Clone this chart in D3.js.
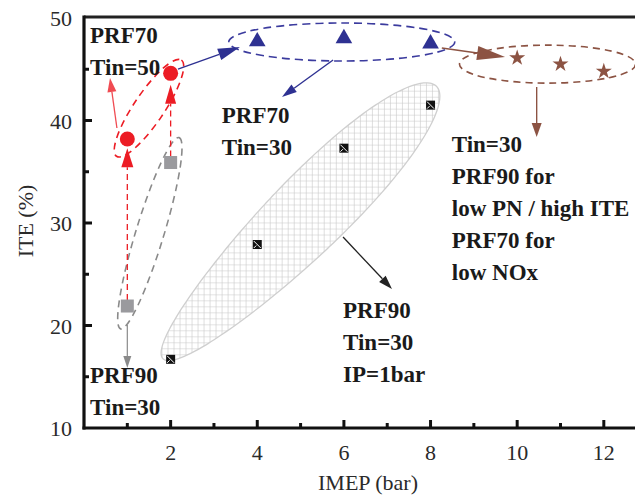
<!DOCTYPE html>
<html>
<head>
<meta charset="utf-8">
<script src="https://cdn.jsdelivr.net/npm/d3@7/dist/d3.min.js"></script>
<style>
  body { margin: 0; background: #fff; }
  svg { display: block; }
  text { font-family: "Liberation Serif", "Times New Roman", serif; }
</style>
</head>
<body>
<svg id="chart" width="635" height="500"></svg>
<script>
// ---------- data ----------
const xTicks = [2, 4, 6, 8, 10, 12];
const yTicks = [10, 20, 30, 40, 50];
const xMinor = [1, 3, 5, 7, 9, 11];
const yMinor = [15, 25, 35, 45];

// PRF70 Tin=50 (red circles)
const redIMEP = [1, 2];
const redITE = [38.2, 44.6];
// PRF90 Tin=30 (grey squares)
const greyIMEP = [1, 2];
const greyITE = [21.9, 35.9];
// PRF70 Tin=30 (blue triangles)
const blueIMEP = [4, 6, 8];
const blueITE = [47.8, 48.1, 47.6];
// Tin=30 stars
const starIMEP = [10, 11, 12];
const starITE = [46.1, 45.5, 44.8];
// PRF90 Tin=30 IP=1bar (black markers)
const blackIMEP = [2, 4, 6, 8];
const blackITE = [16.7, 27.9, 37.3, 41.5];

// annotation text blocks: [x, y(baseline of first line), lines]
const labels = [
  { x: 0.14, y: 47.56, lines: ["PRF70", "Tin=50"] },
  { x: 3.18, y: 39.76, lines: ["PRF70", "Tin=30"] },
  { x: 8.49, y: 36.93, lines: ["Tin=30", "PRF90 for", "low PN / high ITE", "PRF70 for", "low NOx"] },
  { x: 5.98, y: 20.73, lines: ["PRF90", "Tin=30", "IP=1bar"] },
  { x: 0.14, y: 14.39, lines: ["PRF90", "Tin=30"] }
];

// ---------- layout ----------
const svg = d3.select("#chart");
const x = d3.scaleLinear().domain([0, 12.72]).range([84, 635]);
const y = d3.scaleLinear().domain([10, 50]).range([428, 18]);

const RED = "#ec1c24", BLUE = "#2e3192", BROWN = "#8c5343", GREY = "#9a9a9e", INK = "#1a1a1a";

// hatch pattern
const defs = svg.append("defs");
const pat = defs.append("pattern").attr("id", "grid").attr("patternUnits", "userSpaceOnUse")
  .attr("width", 6).attr("height", 6).attr("patternTransform", "rotate(45)");
pat.append("rect").attr("width", 6).attr("height", 6).attr("fill", "#fff");
pat.append("path").attr("d", "M0,0 H6 M0,0 V6").attr("stroke", "#c8c8c8").attr("stroke-width", 1.2);

// ellipses
function ellipse(cx, cy, rx, ry, ang, stroke, dash) {
  svg.append("ellipse")
    .attr("transform", `translate(${x(cx)},${y(cy)}) rotate(${ang})`)
    .attr("rx", rx).attr("ry", ry)
    .attr("fill", "none").attr("stroke", stroke)
    .attr("stroke-width", 1.6)
    .attr("stroke-dasharray", dash || null);
}
// teardrop-shaped hatched region (wider towards upper right)
(function () {
  const a = 193, b0 = 38, k = 0.15, pts = [];
  for (let i = 0; i < 120; i++) {
    const t = (i / 120) * 2 * Math.PI;
    const s = a * Math.cos(t);
    const w = b0 * Math.sin(t) * (1 + k * s / a);
    pts.push([s, w]);
  }
  svg.append("path")
    .attr("transform", `translate(${x(4.98)},${y(30.05)}) rotate(-44.9)`)
    .attr("d", d3.line().curve(d3.curveCardinalClosed)(pts))
    .attr("fill", "url(#grid)").attr("stroke", "#cfcfcf").attr("stroke-width", 1.3);
})();
ellipse(1.5, 41.2, 58, 15, -56, RED, "7,5");
ellipse(1.52, 29.0, 100, 14, -73, "#8a8a8a", "7,5");
ellipse(5.95, 47.66, 113, 19, 0, "#3b3b9e", "8,5");
ellipse(10.7, 45.5, 88, 19, 0, BROWN, "7,5");

// arrows
function arrow(x1, y1, x2, y2, color, w, hl, hw, dash) {
  const X1 = x(x1), Y1 = y(y1), X2 = x(x2), Y2 = y(y2);
  const a = Math.atan2(Y2 - Y1, X2 - X1);
  const bx = X2 - hl * Math.cos(a), by = Y2 - hl * Math.sin(a);
  svg.append("line").attr("x1", X1).attr("y1", Y1).attr("x2", bx).attr("y2", by)
    .attr("stroke", color).attr("stroke-width", w).attr("stroke-dasharray", dash || null);
  const px = -Math.sin(a) * hw / 2, py = Math.cos(a) * hw / 2;
  svg.append("path").attr("d", `M${X2},${Y2}L${bx + px},${by + py}L${bx - px},${by - py}Z`).attr("fill", color);
}
// red dashed arrows from grey squares up to red circles
arrow(greyIMEP[0], greyITE[0] + 0.6, redIMEP[0], redITE[0] - 0.9, RED, 1.3, 19, 12, "6,4");
arrow(greyIMEP[1], greyITE[1] + 0.6, redIMEP[1], redITE[1] - 1.1, RED, 1.3, 19, 11, "6,4");
arrow(0.76, 39.27, 0.6, 44.15, "#f04b52", 1.3, 14, 9);
arrow(2.17, 45.02, 3.6, 47.17, BLUE, 1.4, 22, 12);
arrow(5.75, 45.9, 4.57, 42.29, BLUE, 1.4, 15, 9);
arrow(8.26, 47.07, 9.72, 46.2, BROWN, 1.6, 28, 14);
arrow(10.45, 43.27, 10.45, 38.39, BROWN, 1.4, 14, 10);
arrow(5.98, 28.63, 7.11, 23.56, "#222", 1.3, 14, 9);
arrow(1, 20.05, 1, 15.85, "#8a8a8a", 1.2, 12, 8);

// markers
svg.selectAll(".redc").data(redIMEP).join("circle")
  .attr("cx", d => x(d)).attr("cy", (d, i) => y(redITE[i])).attr("r", 7.5).attr("fill", RED);
svg.selectAll(".greys").data(greyIMEP).join("rect")
  .attr("x", d => x(d) - 6.5).attr("y", (d, i) => y(greyITE[i]) - 6.5)
  .attr("width", 13).attr("height", 13).attr("fill", GREY);
svg.selectAll(".blue").data(blueIMEP).join("path")
  .attr("transform", (d, i) => `translate(${x(d)},${y(blueITE[i]) + 1})`)
  .attr("d", d3.symbol(d3.symbolTriangle, 120)).attr("fill", BLUE);
svg.selectAll(".star").data(starIMEP).join("path")
  .attr("transform", (d, i) => `translate(${x(d)},${y(starITE[i])})`)
  .attr("d", d3.symbol(d3.symbolStar, 80)).attr("fill", BROWN);
const bm = svg.selectAll(".blk").data(blackIMEP).join("g")
  .attr("transform", (d, i) => `translate(${x(d)},${y(blackITE[i])})`);
bm.append("rect").attr("x", -4.5).attr("y", -4.5).attr("width", 9).attr("height", 9).attr("fill", "#111");
bm.append("path").attr("d", "M-3.5,-3.5L3.5,3.5M-3.5,3.5L-1,1").attr("stroke", "#fff").attr("stroke-width", 1);

// axes frame
svg.append("line").attr("x1", 84).attr("x2", 635).attr("y1", y(50) - 1).attr("y2", y(50) - 1)
  .attr("stroke", "#222").attr("stroke-width", 3);
svg.append("line").attr("x1", 84).attr("x2", 84).attr("y1", y(50) - 2.5).attr("y2", y(10) + 1.5)
  .attr("stroke", "#111").attr("stroke-width", 3.2);
svg.append("line").attr("x1", 82.5).attr("x2", 635).attr("y1", y(10)).attr("y2", y(10))
  .attr("stroke", "#111").attr("stroke-width", 3.2);

// ticks
svg.selectAll(".xt").data(xTicks).join("line")
  .attr("x1", d => x(d)).attr("x2", d => x(d)).attr("y1", y(10)).attr("y2", y(10) - 8)
  .attr("stroke", "#111").attr("stroke-width", 3);
svg.selectAll(".xm").data(xMinor).join("line")
  .attr("x1", d => x(d)).attr("x2", d => x(d)).attr("y1", y(10)).attr("y2", y(10) - 5)
  .attr("stroke", "#111").attr("stroke-width", 3);
svg.selectAll(".yt").data(yTicks.filter(d => d > 10 && d < 50)).join("line")
  .attr("x1", 84).attr("x2", 92).attr("y1", d => y(d)).attr("y2", d => y(d))
  .attr("stroke", "#111").attr("stroke-width", 3);
svg.selectAll(".ym").data(yMinor).join("line")
  .attr("x1", 84).attr("x2", 89).attr("y1", d => y(d)).attr("y2", d => y(d))
  .attr("stroke", "#111").attr("stroke-width", 3);

// tick labels
svg.selectAll(".xl").data(xTicks).join("text")
  .attr("x", d => x(d)).attr("y", y(10) + 32).attr("text-anchor", "middle")
  .attr("font-size", 22).attr("fill", "#2a2a2a").text(d => d);
svg.selectAll(".yl").data(yTicks).join("text")
  .attr("x", 72).attr("y", d => y(d) + 8).attr("text-anchor", "end")
  .attr("font-size", 22).attr("fill", "#2a2a2a").text(d => d);

// axis titles
svg.append("text").attr("x", 368).attr("y", 490).attr("text-anchor", "middle")
  .attr("font-size", 22).attr("fill", "#2a2a2a").text("IMEP (bar)");
svg.append("text").attr("transform", "translate(33,221) rotate(-90)").attr("text-anchor", "middle")
  .attr("font-size", 22).attr("fill", "#2a2a2a").text("ITE (%)");

// annotation labels
labels.forEach(l => {
  const t = svg.append("text").attr("x", x(l.x)).attr("y", y(l.y))
    .attr("font-size", 23).attr("font-weight", "bold").attr("fill", INK);
  l.lines.forEach((s, i) => t.append("tspan").attr("x", x(l.x)).attr("dy", i ? 32 : 0).text(s));
});
</script>
</body>
</html>
